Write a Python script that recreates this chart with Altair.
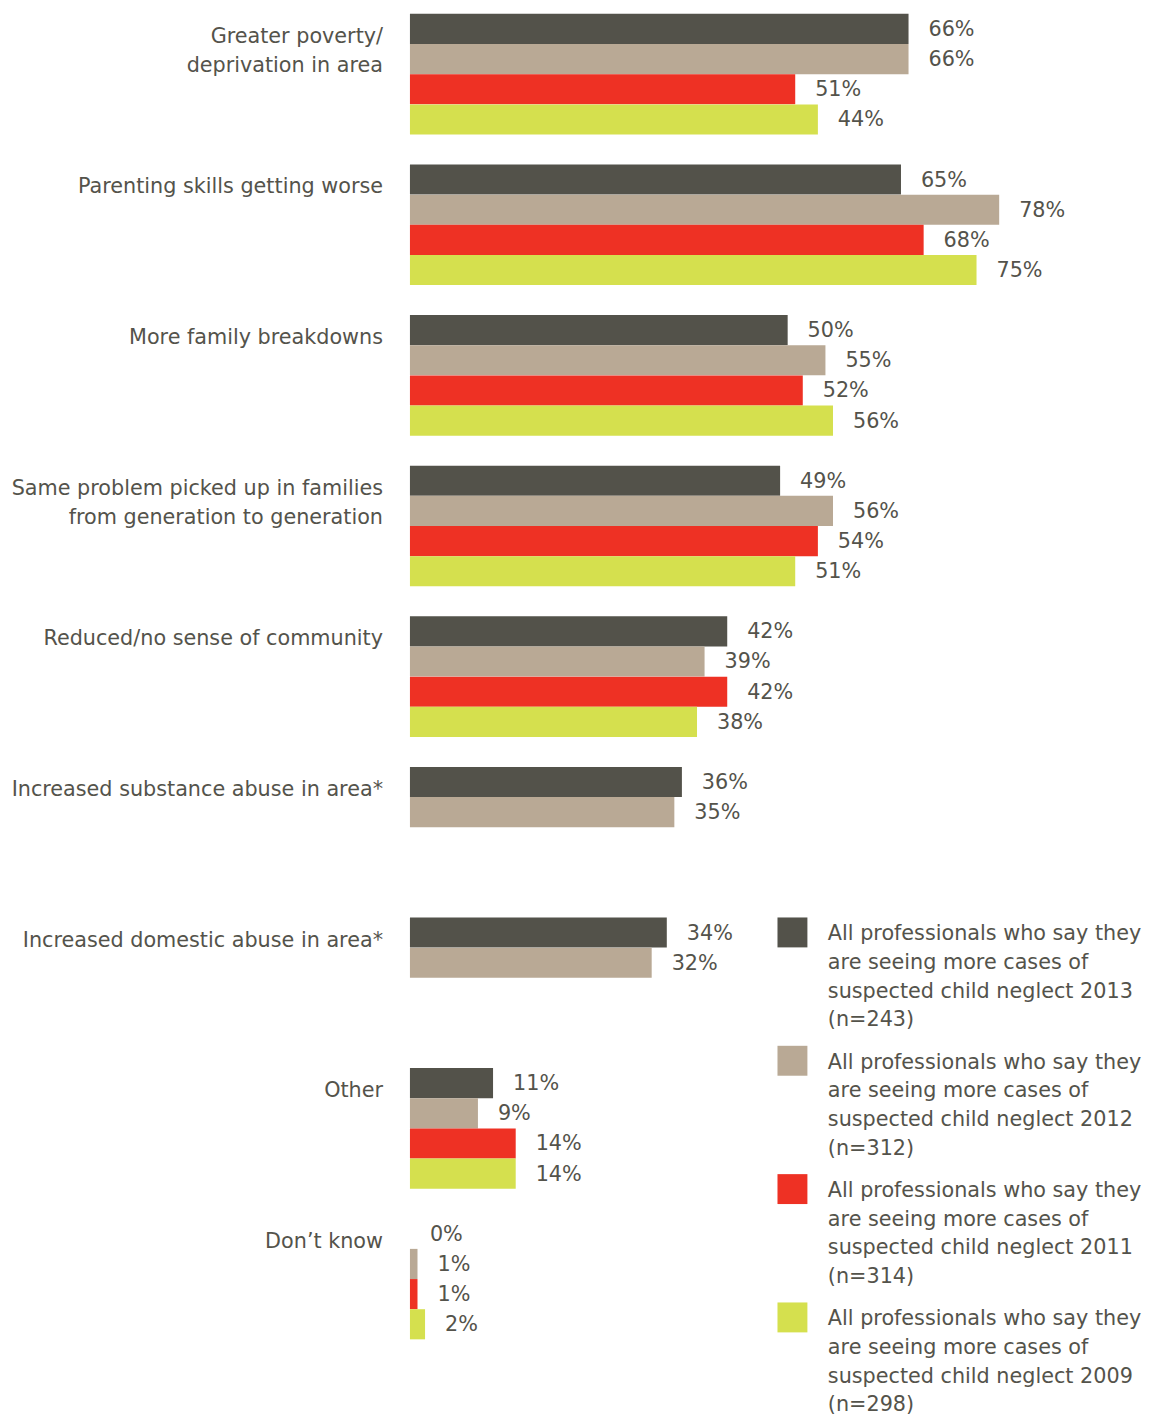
import altair as alt
import pandas as pd

categories = [
    "Greater poverty/|deprivation in area",
    "Parenting skills getting worse",
    "More family breakdowns",
    "Same problem picked up in families|from generation to generation",
    "Reduced/no sense of community",
    "Increased substance abuse in area*",
    "Increased domestic abuse in area*",
    "Other",
    "Don\u2019t know",
]

series = [
    "All professionals who say they|are seeing more cases of|suspected child neglect 2013|(n=243)",
    "All professionals who say they|are seeing more cases of|suspected child neglect 2012|(n=312)",
    "All professionals who say they|are seeing more cases of|suspected child neglect 2011|(n=314)",
    "All professionals who say they|are seeing more cases of|suspected child neglect 2009|(n=298)",
]

# bar lengths as drawn in the reference (percent)
v2013 = [66, 65, 50, 49, 42, 36, 34, 11, 0]
v2012 = [66, 78, 55, 56, 39, 35, 32, 9, 1]
v2011 = [51, 68, 52, 54, 42, None, None, 14, 1]
v2009 = [54, 75, 56, 51, 38, None, None, 14, 2]  # first bar is drawn at ~54% in the reference

# value labels as printed in the reference
l2013 = ["66%", "65%", "50%", "49%", "42%", "36%", "34%", "11%", "0%"]
l2012 = ["66%", "78%", "55%", "56%", "39%", "35%", "32%", "9%", "1%"]
l2011 = ["51%", "68%", "52%", "54%", "42%", None, None, "14%", "1%"]
l2009 = ["44%", "75%", "56%", "51%", "38%", None, None, "14%", "2%"]

colors = ["#53524a", "#b9a995", "#ee3124", "#d5e04e"]
text_color = "#54534b"
font = "DejaVu Sans"
fsize = 20.8

rows = []
for s, vals, labs in zip(series, [v2013, v2012, v2011, v2009], [l2013, l2012, l2011, l2009]):
    for c, v, lab in zip(categories, vals, labs):
        if v is not None:
            rows.append({"category": c, "series": s, "value": v, "label": lab})
df = pd.DataFrame(rows)

cat_df = pd.DataFrame({"category": categories, "series": [series[0]] * len(categories)})
leg_df = pd.DataFrame({"series": series})

y_enc = alt.Y("category:N", sort=categories, axis=None,
              scale=alt.Scale(paddingInner=30 / 151, paddingOuter=0))
yoff_enc = alt.YOffset("series:N", sort=series, scale=alt.Scale(paddingInner=0, paddingOuter=0))
x_scale = alt.Scale(domain=[0, 97.7], nice=False, zero=True)
color_scale = alt.Scale(domain=series, range=colors)

bars = alt.Chart(df).mark_bar(size=30.2).encode(
    x=alt.X("value:Q", scale=x_scale, axis=None),
    y=y_enc,
    yOffset=yoff_enc,
    color=alt.Color("series:N", sort=series, scale=color_scale, legend=None),
)

values = alt.Chart(df).mark_text(
    align="left", baseline="middle", dx=20, dy=1, font=font, fontSize=fsize, color=text_color
).encode(
    x=alt.X("value:Q", scale=x_scale),
    y=y_enc,
    yOffset=yoff_enc,
    text="label:N",
)

cat_labels = alt.Chart(cat_df).mark_text(
    align="right", baseline="alphabetic", dy=14, lineBreak="|", lineHeight=29,
    font=font, fontSize=fsize, color=text_color
).encode(
    x=alt.value(-27),
    y=y_enc,
    yOffset=yoff_enc,
    text="category:N",
)

# legend (drawn as marks, placed at the bottom right like the reference)
leg_y = alt.Y("series:N", sort=series, axis=None,
              scale=alt.Scale(type="point", domain=series, range=[921, 1307], padding=0))

leg_sq = alt.Chart(leg_df).mark_square(size=900, opacity=1, strokeWidth=0).encode(
    x=alt.value(383.5),
    y=leg_y,
    color=alt.Color("series:N", sort=series, scale=color_scale, legend=None),
)

leg_txt = alt.Chart(leg_df).mark_text(
    align="left", baseline="alphabetic", dy=8, lineBreak="|", lineHeight=28.7,
    font=font, fontSize=fsize, color=text_color
).encode(
    x=alt.value(419),
    y=leg_y,
    text="series:N",
)

legend = alt.layer(leg_sq, leg_txt)

chart = alt.layer(bars, values, cat_labels, legend).resolve_scale(y="independent").properties(
    width=740,
    height=1329,
    autosize=alt.AutoSizeParams(type="none"),
    padding={"left": 403, "top": 4, "right": 5, "bottom": 82},
).configure_view(stroke=None)

chart.save("out.html", embed_options={"renderer": "svg", "actions": False})
